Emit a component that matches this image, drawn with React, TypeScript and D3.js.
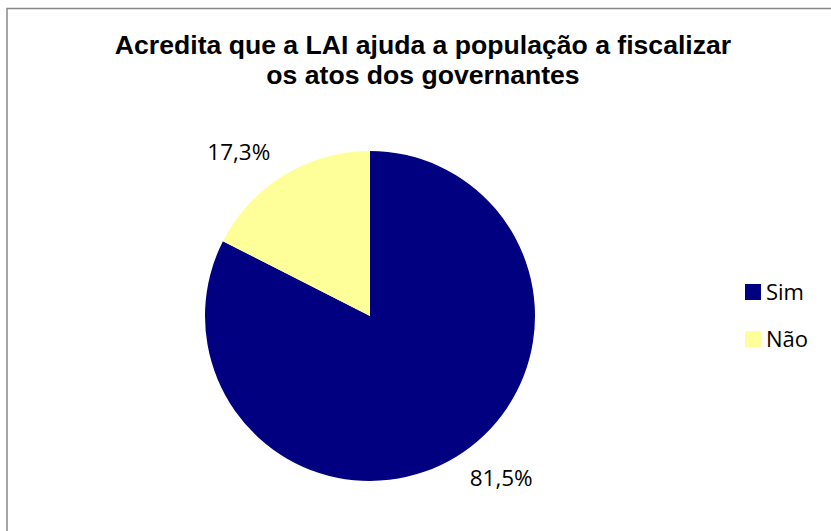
import React, { useEffect, useRef } from 'react'
import * as d3 from 'd3'

const categories = ['Sim', 'Não']
const values = [81.5, 17.3]
const valueLabels = ['81,5%', '17,3%']
const colors = ['#000080', '#FFFF99']
const titleLines = ['Acredita que a LAI ajuda a população a fiscalizar', 'os atos dos governantes']

const W = 831
const H = 531

const App: React.FC = () => {
  const svgRef = useRef<SVGSVGElement>(null)

  useEffect(() => {
    if (!svgRef.current) return
    const svg = d3.select(svgRef.current)
    svg.selectAll('*').remove()

    svg.append('rect').attr('width', W).attr('height', H).attr('fill', '#fff')

    // chart area border (only top/left fit in the frame)
    svg.append('rect')
      .attr('x', 7)
      .attr('y', 8.5)
      .attr('width', W + 20)
      .attr('height', H + 20)
      .attr('fill', 'none')
      .attr('stroke', '#888')
      .attr('stroke-width', 1.5)

    // title
    svg.append('g')
      .selectAll('text')
      .data(titleLines)
      .enter()
      .append('text')
      .attr('x', 423)
      .attr('y', (_d, i) => 54 + i * 30)
      .attr('text-anchor', 'middle')
      .style('font-family', '"Liberation Sans", Arial, sans-serif')
      .style('font-size', '26.6px')
      .style('font-weight', 'bold')
      .style('fill', '#000')
      .text(d => d)

    const cx = 370
    const cy = 316
    const radius = 165

    const pie = d3.pie<number>().sort(null).value(d => d)
    const arcs = pie(values)
    const arc = d3.arc<d3.PieArcDatum<number>>().innerRadius(0).outerRadius(radius)
    const labelArc = d3.arc<d3.PieArcDatum<number>>().innerRadius(radius + 18).outerRadius(radius + 18)

    const g = svg.append('g').attr('transform', `translate(${cx},${cy})`)

    g.selectAll('.slice')
      .data(arcs)
      .enter()
      .append('path')
      .attr('class', 'slice')
      .attr('d', arc)
      .attr('fill', (_d, i) => colors[i])

    // outside-end labels: nearest corner of the label box touches the anchor point
    g.selectAll('.slice-label')
      .data(arcs)
      .enter()
      .append('text')
      .attr('class', 'slice-label')
      .each(function (d, i) {
        const [x, y] = labelArc.centroid(d)
        const mid = (d.startAngle + d.endAngle) / 2
        const right = Math.sin(mid) >= 0
        const below = Math.cos(mid) < 0
        d3.select(this)
          .attr('x', right ? x + 4 : x - 4)
          .attr('y', below ? y + 14 : y)
          .attr('text-anchor', right ? 'start' : 'end')
          .text(valueLabels[i])
      })
      .style('font-family', '"Open Sans", sans-serif')
      .style('font-size', '22.5px')
      .style('fill', '#000')

    // legend
    const legend = svg.append('g').attr('transform', 'translate(745,284)')
    const item = legend.selectAll('.item')
      .data(categories)
      .enter()
      .append('g')
      .attr('class', 'item')
      .attr('transform', (_d, i) => `translate(0,${i * 47})`)

    item.append('rect')
      .attr('width', 16)
      .attr('height', 16)
      .attr('fill', (_d, i) => colors[i])

    item.append('text')
      .attr('x', 21)
      .attr('y', 16)
      .style('font-family', '"Open Sans", sans-serif')
      .style('font-size', '22px')
      .style('fill', '#000')
      .text(d => d)
  }, [])

  return (
    <div style={{ position: 'fixed', left: 0, top: 0 }}>
      <svg ref={svgRef} width={W} height={H} style={{ display: 'block' }} />
    </div>
  )
}

export default App
